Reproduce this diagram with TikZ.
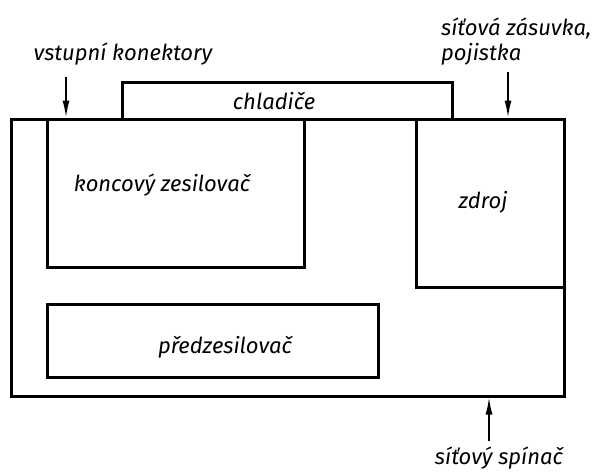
\documentclass[tikz,border=0pt]{standalone}
\usepackage{fontspec}
\setmainfont{Fira Sans}
\usetikzlibrary{positioning,arrows.meta}

\begin{document}
\begin{tikzpicture}[x=1pt, y=-1pt,
        box/.style={draw, line width=3pt, inner sep=0pt},
        lbl/.style={font=\fontsize{22}{25}\selectfont\itshape, inner sep=0pt},
        arr/.style={line width=1.6pt, -{Latex[length=17pt, width=7pt]}},
      ]
        \useasboundingbox (0,0) rectangle (599,472);
        % skrin a bloky
        \node[box, minimum width=330pt, minimum height=37pt] (sink) at (287, 100.5) {};
        \node[box, minimum width=553pt, minimum height=277pt, fill=white] (case) at (287.5, 257.5) {};
        \node[box, minimum width=257pt, minimum height=148pt] (amp) at (175.5, 193) {};
        \node[box, minimum width=148pt, minimum height=168pt] (psu) at (490, 203) {};
        \node[box, minimum width=331pt, minimum height=73pt] (pre) at (212.5, 340.5) {};
        % popisky
        \node[lbl] (sinkname) at (274, 101) {chladiče};
        \node[lbl] (ampname) at (162, 185) {koncový zesilovač};
        \node[lbl] (psuname) at (483, 202) {zdroj};
        \node[lbl] (prename) at (225, 347) {předzesilovač};
        \node[lbl] (inname) at (123, 54) {vstupní konektory};
        \node[lbl, anchor=west, align=left] (mainsname) at (441, 42) {síťová zásuvka,\\pojistka};
        \node[lbl] (switchname) at (499, 458) {síťový spínač};
        % sipky
        \coordinate (intail) at (66, 77);
        \coordinate (mainstail) at (508, 72);
        \coordinate (switchtail) at (489, 441);
        \draw[arr] (intail) -- (intail |- case.north);
        \draw[arr] (mainstail) -- (mainstail |- case.north);
        \draw[arr] (switchtail) -- (switchtail |- case.south);
      \end{tikzpicture}
\end{document}
